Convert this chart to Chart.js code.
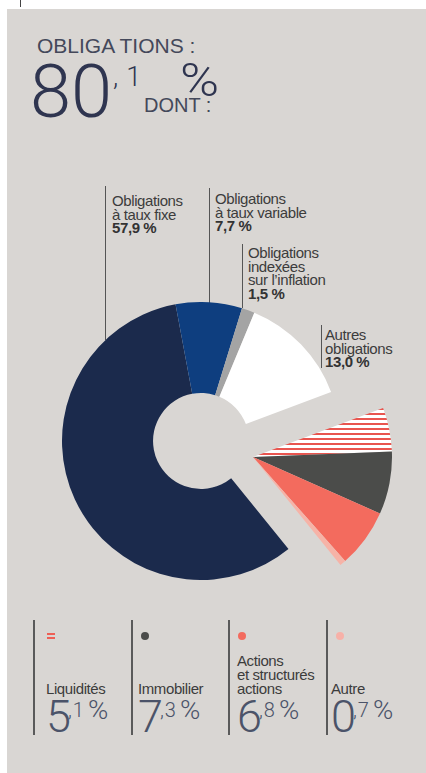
<!DOCTYPE html>
<html lang="fr">
<head>
<meta charset="utf-8">
<script src="https://cdn.jsdelivr.net/npm/chart.js@4.4.1/dist/chart.umd.min.js"></script>
<style>
  html, body { margin: 0; padding: 0; }
  body {
    width: 426px; height: 773px; overflow: hidden; position: relative;
    background: #fff;
    font-family: "Liberation Sans", Arial, sans-serif;
    color: #3a3a3a;
  }
  #panel { position: absolute; left: 7px; top: 9px; right: 0; bottom: 0; background: #d9d6d3; }
  #tick { position: absolute; left: 20px; top: 0; width: 1px; height: 7px; background: #444; }
  .abs { position: absolute; white-space: nowrap; }
  .thin { font-family: Roboto, "Liberation Sans", sans-serif; font-weight: 300; line-height: 1; color: #2f3550; }
  .head { font-size: 21px; line-height: 1; color: #44485a; }
  .vline { position: absolute; width: 1px; background: #555; }
  .callout { position: absolute; font-size: 15px; line-height: 13.5px; letter-spacing: -0.4px; white-space: pre; color: #3c3c3c; }
  .callout b { color: #333; }
  .legline { position: absolute; width: 2px; top: 620px; height: 115px; background: #5a5a5a; }
  .leglabel { position: absolute; font-size: 15px; line-height: 14px; letter-spacing: -0.4px; white-space: pre; color: #3c3c3c; bottom: 77px; }
  .dot { position: absolute; width: 8px; height: 8px; border-radius: 50%; top: 632px; }
  .legnum { color: #4b5369; }
  canvas { position: absolute; }
</style>
</head>
<body>
<div id="panel"></div>
<div id="tick"></div>

<div class="abs head" style="left:37px;top:35px">OBLIGA TIONS :</div>
<div class="abs thin" id="totInt" style="left:30px;top:55px;font-size:74px"></div>
<div class="abs thin" id="totDec" style="left:113px;top:64px;font-size:27px;letter-spacing:8px"></div>
<div class="abs thin" style="left:180px;top:57px;font-size:46px;transform:scaleX(1.15);transform-origin:left top">%</div>
<div class="abs head" style="left:144px;top:95px;font-size:20px">DONT :</div>

<div id="callouts"></div>
<div id="legend"></div>

<canvas id="donut" width="278" height="278" style="left:62px;top:302px"></canvas>
<canvas id="wedges" width="278" height="278" style="left:114px;top:318px"></canvas>

<script>
// allocation, in % of the portfolio
const categories = [
  'Obligations\nà taux fixe',
  'Obligations\nà taux variable',
  'Obligations\nindexées\nsur l\u2019inflation',
  'Autres\nobligations',
  'Liquidités',
  'Immobilier',
  'Actions\net structurés\nactions',
  'Autre'
];
const shares = [57.9, 7.7, 1.5, 13.0, 5.1, 7.3, 6.8, 0.7];
const isBond = [true, true, true, true, false, false, false, false];

// striped fill for cash
function stripes() {
  const c = document.createElement('canvas');
  c.width = 1; c.height = 5;
  const g = c.getContext('2d');
  g.fillStyle = '#ffffff';
  g.fillRect(0, 0, 1, 5);
  g.fillStyle = '#e9554f';
  g.fillRect(0, 0, 1, 2);
  return g.createPattern(c, 'repeat');
}

const sliceColors = ['#1b2a4c', '#0e3e7f', '#a4a4a4', '#ffffff', stripes(), '#4b4c4a', '#f36b5e', '#f6b3a7'];
const markerColors = [null, '#4b4c4a', '#f36b5e', '#f7b1a8'];

const fmt = v => v.toFixed(1).replace('.', ',');

// headline total of the bond slices
const bondTotal = shares.filter((v, i) => isBond[i]).reduce((a, b) => a + b, 0);
const [ti, td] = fmt(bondTotal).split(',');
document.getElementById('totInt').textContent = ti;
document.getElementById('totDec').textContent = ',' + td;

// callouts above the ring: [line x, line top, line bottom, text left, text top]
const calloutPos = [
  [105, 186, 340, 112, 194],
  [209, 188, 303, 215, 192],
  [242, 244, 308, 248, 246],
  [321, 325, 368, 325, 328]
];
const co = document.getElementById('callouts');
calloutPos.forEach((p, i) => {
  const l = document.createElement('div');
  l.className = 'vline';
  l.style.left = p[0] + 'px';
  l.style.top = p[1] + 'px';
  l.style.height = (p[2] - p[1]) + 'px';
  co.appendChild(l);
  const t = document.createElement('div');
  t.className = 'callout';
  t.style.left = p[3] + 'px';
  t.style.top = p[4] + 'px';
  t.textContent = categories[i] + '\n';
  const b = document.createElement('b');
  b.textContent = fmt(shares[i]) + ' %';
  t.appendChild(b);
  co.appendChild(t);
});

// legend for the other assets: [line x, marker x, text left]
const legendPos = [
  [33, 47, 46],
  [131, 141, 138],
  [228, 238, 237],
  [326, 336, 331]
];
const lg = document.getElementById('legend');
legendPos.forEach((p, k) => {
  const i = k + 4;
  const line = document.createElement('div');
  line.className = 'legline';
  line.style.left = p[0] + 'px';
  lg.appendChild(line);

  if (k === 0) {
    for (const y of [633, 637]) {
      const s = document.createElement('div');
      s.style.cssText = `position:absolute;left:${p[1]}px;top:${y}px;width:8px;height:1.5px;background:#ee5f55`;
      lg.appendChild(s);
    }
  } else {
    const d = document.createElement('div');
    d.className = 'dot';
    d.style.left = p[1] + 'px';
    d.style.background = markerColors[k];
    lg.appendChild(d);
  }

  const lab = document.createElement('div');
  lab.className = 'leglabel';
  lab.style.left = p[2] + 'px';
  lab.textContent = categories[i];
  lg.appendChild(lab);

  const [a, b] = fmt(shares[i]).split(',');
  const n1 = document.createElement('div');
  n1.className = 'abs thin legnum';
  n1.style.cssText += `left:${p[2]}px;top:694px;font-size:45px`;
  n1.textContent = a;
  lg.appendChild(n1);
  const n2 = document.createElement('div');
  n2.className = 'abs thin legnum';
  n2.style.cssText += `left:${p[2] + 22}px;top:700px;font-size:20px;letter-spacing:1px`;
  n2.textContent = ',' + b;
  lg.appendChild(n2);
  const n3 = document.createElement('div');
  n3.className = 'abs thin legnum';
  n3.style.cssText += `left:${p[2] + 42}px;top:698px;font-size:25px;transform:scaleX(1.1);transform-origin:left top`;
  n3.textContent = '%';
  lg.appendChild(n3);
});

const clear = 'rgba(0,0,0,0)';
const baseOptions = {
  responsive: false,
  animation: false,
  events: [],
  rotation: 141,
  layout: { padding: 0 },
  plugins: { legend: { display: false }, tooltip: { enabled: false } }
};

// bond ring
new Chart(document.getElementById('donut'), {
  type: 'doughnut',
  data: {
    labels: categories,
    datasets: [{
      data: shares,
      backgroundColor: shares.map((v, i) => isBond[i] ? sliceColors[i] : clear),
      borderWidth: 0
    }]
  },
  options: Object.assign({}, baseOptions, { cutout: '34.5%' })
});

// other assets, pulled out as full wedges
new Chart(document.getElementById('wedges'), {
  type: 'pie',
  data: {
    labels: categories,
    datasets: [{
      data: shares,
      backgroundColor: shares.map((v, i) => isBond[i] ? clear : sliceColors[i]),
      borderWidth: 0
    }]
  },
  options: baseOptions
});
</script>
</body>
</html>
